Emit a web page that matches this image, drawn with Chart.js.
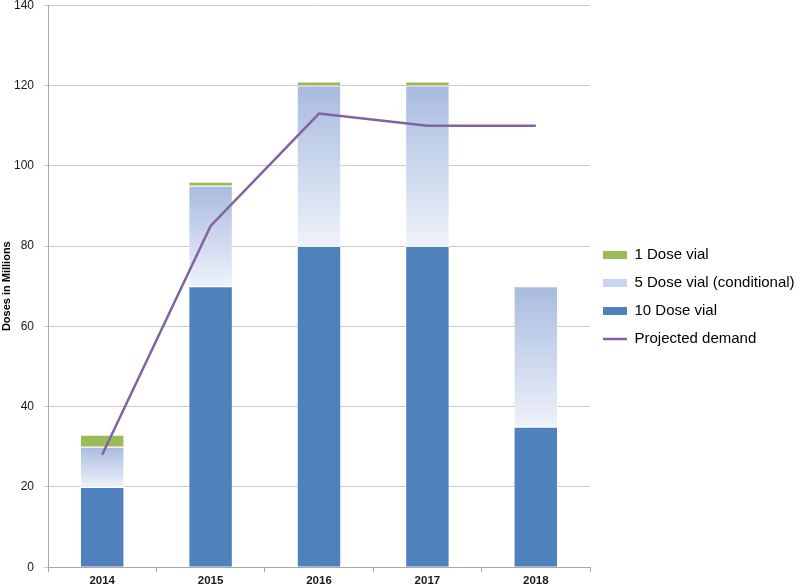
<!DOCTYPE html>
<html>
<head>
<meta charset="utf-8">
<script src="https://cdn.jsdelivr.net/npm/chart.js@4.4.1/dist/chart.umd.min.js"></script>
<style>
  html, body { margin: 0; padding: 0; background: #fff; overflow: hidden; }
  #wrap { width: 800px; height: 587px; overflow: hidden; }
  #myChart { display: block; margin-top: -12px; }
</style>
</head>
<body>
<div id="wrap"><canvas id="myChart" width="800" height="599"></canvas></div>
<script>
// values (doses in millions)
var years = ['2014', '2015', '2016', '2017', '2018'];
var tenDose = [20, 70, 80, 80, 35];
var fiveDose = [10, 25, 40, 40, 35];
var oneDose = [3, 1, 1, 1, 0];
var projected = [28, 85, 113, 110, 110];

var blue = '#4f81bd';
var green = '#9bbb59';
var purple = '#8064a2';

// vertical gradient for the "conditional" bars, from each bar's top to its bottom
function fiveDoseFill(c) {
  var chart = c.chart;
  if (!chart.chartArea || c.type !== 'data') return '#c9d5ee';
  var y = chart.scales.y;
  var i = c.dataIndex;
  var bottom = y.getPixelForValue(tenDose[i]);
  var top = y.getPixelForValue(tenDose[i] + fiveDose[i]);
  var g = chart.ctx.createLinearGradient(0, top, 0, bottom);
  g.addColorStop(0, '#a8bbdf');
  g.addColorStop(1, '#eef2fa');
  return g;
}

var ctx = document.getElementById('myChart').getContext('2d');
var myChart = new Chart(ctx, {
  data: {
    labels: years,
    datasets: [
      { type: 'bar', label: '10 Dose vial', data: tenDose, backgroundColor: blue,
        borderColor: 'rgba(255,255,255,0.7)', borderWidth: 1, order: 1 },
      { type: 'bar', label: '5 Dose vial (conditional)', data: fiveDose, backgroundColor: fiveDoseFill,
        borderColor: 'rgba(255,255,255,0.7)', borderWidth: 1, order: 1 },
      { type: 'bar', label: '1 Dose vial', data: oneDose, backgroundColor: green,
        borderColor: 'rgba(255,255,255,0.7)', borderWidth: 1, order: 1 },
      { type: 'line', label: 'Projected demand', data: projected, borderColor: purple,
        borderWidth: 2.5, pointRadius: 0, tension: 0, order: 0 }
    ]
  },
  options: {
    responsive: false,
    animation: false,
    datasets: { bar: { barPercentage: 0.41, categoryPercentage: 1 } },
    layout: { padding: { top: 0, right: 0, left: 0, bottom: -3 } },
    scales: {
      x: {
        stacked: true,
        offset: true,
        grid: { offset: true, drawOnChartArea: false, tickLength: 5, color: '#a8a8a8' },
        border: { color: '#a8a8a8' },
        ticks: { color: '#1a1a1a', font: { family: 'Liberation Sans', size: 11.5, weight: 'bold' }, padding: 2 }
      },
      y: {
        stacked: true,
        min: 0,
        max: 140,
        afterFit: function(scale) { scale.width = 48; },
        ticks: { stepSize: 20, color: '#1a1a1a', font: { family: 'Liberation Sans', size: 12 }, padding: 10 },
        grid: { color: '#cacaca', tickLength: 4 },
        border: { color: '#a8a8a8' },
        title: { display: true, text: 'Doses in Millions', color: '#000',
          font: { family: 'Liberation Sans', size: 11, weight: 'bold' }, padding: { top: 0, bottom: 0 } }
      }
    },
    plugins: {
      tooltip: { enabled: false },
      legend: {
        position: 'right',
        maxWidth: 210,
        title: { display: true, text: ' ', font: { size: 10 }, padding: { top: 2, bottom: 2 } },
        labels: {
          usePointStyle: true,
          pointStyleWidth: 24,
          boxHeight: 8,
          padding: 13,
          color: '#000',
          font: { family: 'Liberation Sans', size: 15 },
          generateLabels: function(chart) {
            var items = Chart.defaults.plugins.legend.labels.generateLabels(chart);
            items.forEach(function(it) {
              if (it.datasetIndex === 3) {
                it.pointStyle = 'line';
                it.strokeStyle = purple;
                it.lineWidth = 2.5;
              } else {
                it.pointStyle = 'rect';
                it.lineWidth = 0;
                it.strokeStyle = 'rgba(0,0,0,0)';
                it.fillStyle = [blue, '#c9d5ee', green][it.datasetIndex];
              }
            });
            var order = [2, 1, 0, 3];
            return order.map(function(k) {
              return items.filter(function(it) { return it.datasetIndex === k; })[0];
            });
          }
        }
      }
    }
  }
});
</script>
</body>
</html>
